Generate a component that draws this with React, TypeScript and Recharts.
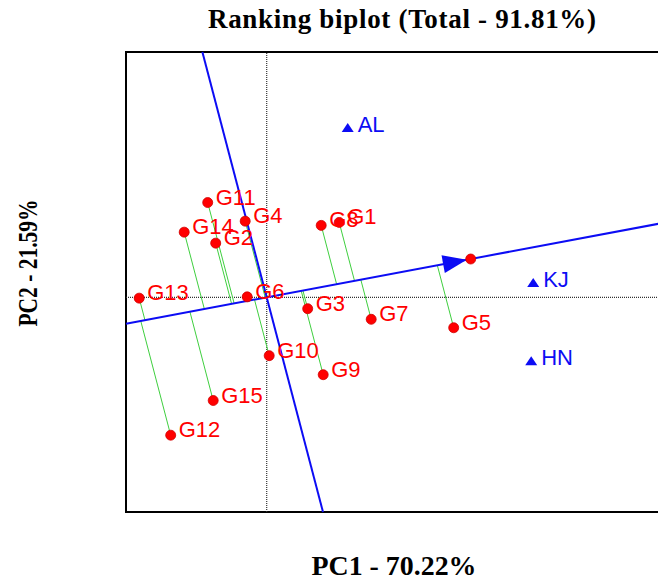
import React from "react";
import { ScatterChart, Scatter, XAxis, YAxis, ReferenceLine, ReferenceArea } from "recharts";

// ---- data ----
const genotypes = ["G1", "G2", "G3", "G4", "G5", "G6", "G7", "G8", "G9", "G10", "G11", "G12", "G13", "G14", "G15"];
const genoPC1 = [1.45, -1.02, 0.82, -0.43, 3.74, -0.39, 2.09, 1.09, 1.13, 0.05, -1.18, -1.92, -2.55, -1.65, -1.07];
const genoPC2 = [1.77, 1.28, -0.27, 1.8, -0.72, 0.01, -0.52, 1.7, -1.83, -1.38, 2.24, -3.26, -0.02, 1.54, -2.44];

const environments = ["AL", "KJ", "HN"];
const envPC1 = [1.62, 5.33, 5.29];
const envPC2 = [4.0, 0.34, -1.51];

// average environment coordinate (arrow of the average-environment axis)
const avgEnvPC1 = 4.08;
const avgEnvPC2 = 0.905;

const titleText = "Ranking biplot (Total - 91.81%)";
const xLabelText = "PC1 - 70.22%";
const yLabelText = "PC2 - 21.59%";

// ---- layout ----
const CHART_W = 720;
const CHART_H = 581;
const MARGIN = { top: 52, right: 20, bottom: 69, left: 126 };
const PLOT_W = CHART_W - MARGIN.left - MARGIN.right;
const PLOT_H = CHART_H - MARGIN.top - MARGIN.bottom;
const X_DOMAIN: [number, number] = [-2.814, 8.666];
const Y_DOMAIN: [number, number] = [-5.076, 5.799];

const RED = "#ff0000";
const BLUE = "#0c0cf4";
const GREEN = "#3fcf3f";
const SANS = "'Liberation Sans', Arial, sans-serif";
const SERIF = "'Liberation Serif', 'Times New Roman', serif";
const LABEL_SIZE = 22;

const genoData = genotypes.map((g, i) => ({ name: g, x: genoPC1[i], y: genoPC2[i] }));
const envData = environments.map((e, i) => ({ name: e, x: envPC1[i], y: envPC2[i] }));
const avgData = [{ name: "AEA", x: avgEnvPC1, y: avgEnvPC2 }];

const aLen = Math.hypot(avgEnvPC1, avgEnvPC2);
const ux = avgEnvPC1 / aLen;
const uy = avgEnvPC2 / aLen;
const k = avgEnvPC2 / avgEnvPC1;

const projections = genoData.map((d) => {
  const t = d.x * ux + d.y * uy;
  return { name: d.name, from: { x: d.x, y: d.y }, to: { x: t * ux, y: t * uy } };
});

const GenoShape = (props: any) => {
  const { cx, cy, payload } = props;
  return (
    <g>
      <circle cx={cx} cy={cy} r={5} fill={RED} stroke="#d00000" strokeWidth={0.8} />
      <text x={cx + 8} y={cy + 2} fill={RED} fontSize={LABEL_SIZE} fontFamily={SANS}>
        {payload.name}
      </text>
    </g>
  );
};

const EnvShape = (props: any) => {
  const { cx, cy, payload } = props;
  return (
    <g>
      <polygon points={`${cx},${cy - 5} ${cx - 6},${cy + 4} ${cx + 6},${cy + 4}`} fill={BLUE} />
      <text x={cx + 10} y={cy + 4} fill={BLUE} fontSize={LABEL_SIZE} fontFamily={SANS}>
        {payload.name}
      </text>
    </g>
  );
};

const ArrowShape = (props: any) => {
  const { cx, cy } = props;
  const sx = PLOT_W / (X_DOMAIN[1] - X_DOMAIN[0]);
  const sy = PLOT_H / (Y_DOMAIN[1] - Y_DOMAIN[0]);
  const ang = Math.atan2(-avgEnvPC2 * sy, avgEnvPC1 * sx);
  const c = Math.cos(ang);
  const s = Math.sin(ang);
  const tx = cx - 4 * c;
  const ty = cy - 4 * s;
  const bx = tx - 24 * c;
  const by = ty - 24 * s;
  const px = -s;
  const py = c;
  return (
    <g>
      <polygon
        points={`${tx},${ty} ${bx + 9 * px},${by + 9 * py} ${bx - 9 * px},${by - 9 * py}`}
        fill={BLUE}
      />
      <circle cx={cx} cy={cy} r={5} fill={RED} stroke="#d00000" strokeWidth={0.8} />
    </g>
  );
};

export default function App() {
  return (
    <div
      style={{
        position: "fixed",
        left: 0,
        top: 0,
        width: 658,
        height: 581,
        overflow: "hidden",
        background: "#fff",
      }}
    >
      <div style={{ position: "absolute", left: 0, top: 0 }}>
        <ScatterChart width={CHART_W} height={CHART_H} margin={MARGIN}>
          <XAxis type="number" dataKey="x" domain={X_DOMAIN} hide allowDataOverflow />
          <YAxis type="number" dataKey="y" domain={Y_DOMAIN} hide allowDataOverflow />
          <ReferenceArea
            x1={X_DOMAIN[0]}
            x2={X_DOMAIN[1]}
            y1={Y_DOMAIN[0]}
            y2={Y_DOMAIN[1]}
            fill="none"
            fillOpacity={0}
            stroke="#000"
            strokeWidth={2}
            ifOverflow="visible"
          />
          <ReferenceLine x={0} stroke="#333" strokeWidth={1.2} strokeDasharray="1 1" />
          <ReferenceLine y={0} stroke="#333" strokeWidth={1.2} strokeDasharray="1 1" />
          {projections.map((p) => (
            <ReferenceLine
              key={`proj-${p.name}`}
              segment={[p.from, p.to]}
              stroke={GREEN}
              strokeWidth={1}
              ifOverflow="visible"
            />
          ))}
          <ReferenceLine
            segment={[
              { x: X_DOMAIN[0], y: k * X_DOMAIN[0] },
              { x: X_DOMAIN[1], y: k * X_DOMAIN[1] },
            ]}
            stroke={BLUE}
            strokeWidth={2}
            ifOverflow="visible"
          />
          <ReferenceLine
            segment={[
              { x: -k * Y_DOMAIN[1], y: Y_DOMAIN[1] },
              { x: -k * Y_DOMAIN[0], y: Y_DOMAIN[0] },
            ]}
            stroke={BLUE}
            strokeWidth={2}
            ifOverflow="visible"
          />
          <Scatter name="AEA" data={avgData} shape={ArrowShape} isAnimationActive={false} />
          <Scatter name="Genotypes" data={genoData} shape={GenoShape} isAnimationActive={false} />
          <Scatter name="Environments" data={envData} shape={EnvShape} isAnimationActive={false} />
        </ScatterChart>
      </div>
      <svg
        width={658}
        height={581}
        style={{ position: "absolute", left: 0, top: 0, pointerEvents: "none" }}
      >
        <text
          x={402}
          y={28}
          textAnchor="middle"
          fontFamily={SERIF}
          fontWeight="bold"
          fontSize={27}
          textLength={388}
          lengthAdjust="spacing"
          fill="#000"
        >
          {titleText}
        </text>
        <text
          x={394}
          y={575}
          textAnchor="middle"
          fontFamily={SERIF}
          fontWeight="bold"
          fontSize={27}
          textLength={165}
          lengthAdjust="spacingAndGlyphs"
          fill="#000"
        >
          {xLabelText}
        </text>
        <text
          transform="translate(37,263) rotate(-90)"
          x={0}
          y={0}
          textAnchor="middle"
          fontFamily={SERIF}
          fontWeight="bold"
          fontSize={27}
          textLength={127}
          lengthAdjust="spacingAndGlyphs"
          fill="#000"
        >
          {yLabelText}
        </text>
      </svg>
    </div>
  );
}
